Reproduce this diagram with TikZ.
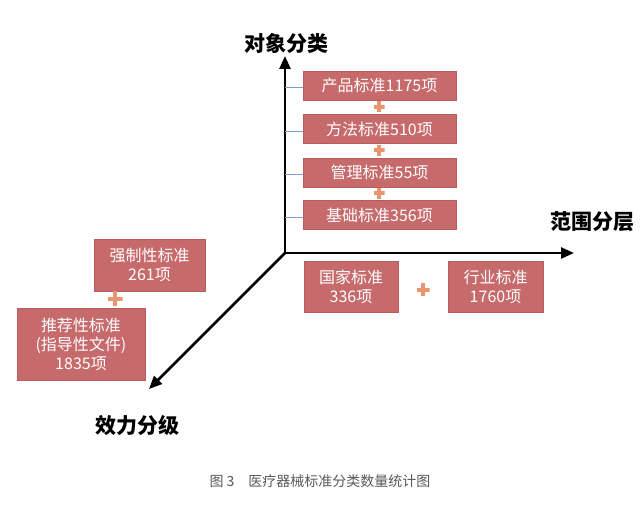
\documentclass[tikz,border=0pt]{standalone}
\usepackage{fontspec}
\newfontfamily\cjk{Noto Sans CJK SC}
\usetikzlibrary{arrows.meta}
\definecolor{boxred}{RGB}{199,106,108}
\definecolor{boxedge}{RGB}{185,92,94}
\definecolor{plusor}{RGB}{232,150,112}
\definecolor{tickblue}{RGB}{120,160,205}
\definecolor{capgray}{RGB}{90,90,90}
\tikzset{
  catbox/.style={draw=boxedge, line width=0.8pt, fill=boxred, text=white, inner sep=0pt,
    font=\cjk\fontsize{16}{19}\selectfont, align=center},
  axislabel/.style={font=\cjk\bfseries\fontsize{21}{24}\selectfont, text=black},
  axisline/.style={line width=2.6pt, -{Triangle[length=13pt,width=11pt]}},
  plussign/.style={minimum size=13pt, inner sep=0pt, outer sep=0pt,
    path picture={\draw[plusor, line width=4pt]
      (path picture bounding box.north) -- (path picture bounding box.south)
      (path picture bounding box.west) -- (path picture bounding box.east);}},
  tickline/.style={draw=tickblue, line width=0.7pt}
}
\begin{document}
\begin{tikzpicture}[x=1pt,y=-1pt]
\useasboundingbox (0,0) rectangle (643,529);
\fill[white] (0,0) rectangle (643,529);
% axes
\coordinate (o) at (285,253);
\coordinate (ytip) at (285,56);
\coordinate (xtip) at (574,253);
\coordinate (ztip) at (149,389);
\draw[axisline] ([yshift=-1pt]o) -- (ytip);
\draw[axisline] ([xshift=-1.3pt]o) -- (xtip);
\draw[axisline] (o) -- (ztip);
% axis labels
\node[axislabel] (ylab) at (286,44) {对象分类};
\node[axislabel] (xlab) at (592,222) {范围分层};
\node[axislabel] (zlab) at (137,425) {效力分级};
% vertical boxes
\node[catbox, minimum width=153pt, minimum height=29pt] (b1) at (379.5,85.5) {产品标准1175项};
\node[catbox, minimum width=153pt, minimum height=29pt] (b2) at (379.5,129) {方法标准510项};
\node[catbox, minimum width=153pt, minimum height=29pt] (b3) at (379.5,172.5) {管理标准55项};
\node[catbox, minimum width=153pt, minimum height=29pt] (b4) at (379.5,215) {基础标准356项};
\foreach \b in {b1,b2,b3,b4}{\draw[tickline] ([yshift=-2pt]\b.west -| o) -- ([yshift=-2pt]\b.west);}
\node[plussign, minimum size=11pt] (p1) at (379,107) {};
\node[plussign, minimum size=11pt] (p2) at (379,150.5) {};
\node[plussign, minimum size=11pt] (p3) at (379,193.5) {};
% horizontal boxes
\node[catbox, minimum width=94pt, minimum height=51pt] (h1) at (351,286.5) {国家标准\\336项};
\node[catbox, minimum width=95pt, minimum height=51pt] (h2) at (495.5,286.5) {行业标准\\1760项};
\node[plussign] (p4) at (423,290) {};
% depth boxes
\node[catbox, minimum width=111pt, minimum height=52pt] (d1) at (149.5,265) {强制性标准\\261项};
\node[catbox, minimum width=128pt, minimum height=72pt] (d2) at (81,344) {推荐性标准\\(指导性文件)\\1835项};
\node[plussign, minimum size=15pt] (p5) at (115,299) {};
% caption
\node[font=\cjk\fontsize{14}{16}\selectfont, text=capgray] (cap) at (320,481) {图 3\quad 医疗器械标准分类数量统计图};
\end{tikzpicture}
\end{document}
